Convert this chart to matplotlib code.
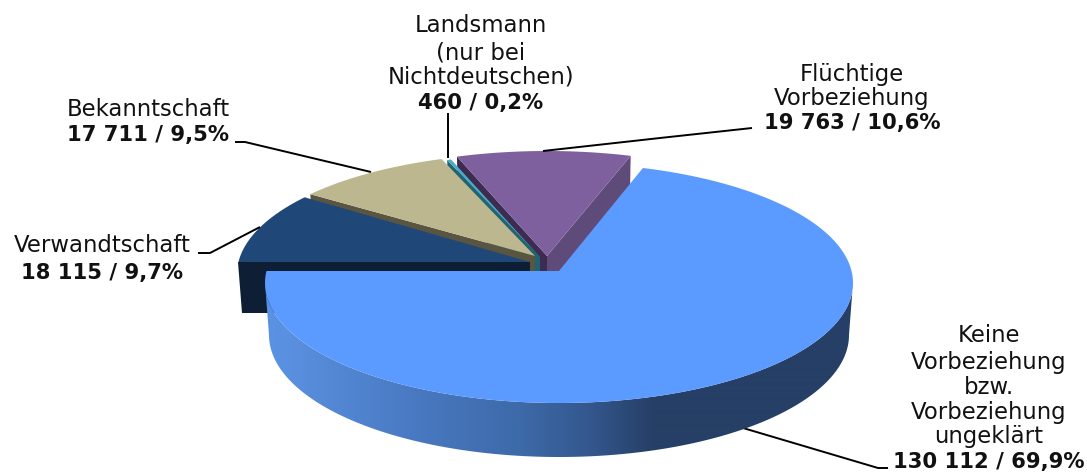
import numpy as np
import matplotlib
matplotlib.use("Agg")
import matplotlib.pyplot as plt
from matplotlib.colors import to_rgb
from matplotlib.patches import Polygon

plt.rcParams['font.family'] = ['DejaVu Sans']

categories = ["Verwandtschaft", "Bekanntschaft", "Landsmann", "Flüchtige Vorbeziehung",
              "Keine Vorbeziehung bzw. Vorbeziehung ungeklärt"]
values = [18115, 17711, 460, 19763, 130112]
top_colors = ["#1f4778", "#bdb78f", "#4bacc6", "#7f609e", "#5b9aff"]
wall_colors = ["#0d1e35", "#5a5540", "#1f6470", "#3d2b52", "#263f66"]

label_lines = [
    (["Landsmann", "(nur bei", "Nichtdeutschen)"], "460 / 0,2%", 481, [26, 53, 77, 103]),
    (["Flüchtige", "Vorbeziehung"], "19 763 / 10,6%", 852, [74, 99, 123]),
    (["Bekanntschaft"], "17 711 / 9,5%", 148, [109, 135]),
    (["Verwandtschaft"], "18 115 / 9,7%", 102, [246, 273]),
    (["Keine", "Vorbeziehung", "bzw.", "Vorbeziehung", "ungeklärt"], "130 112 / 69,9%", 989,
     [336, 362, 387, 412, 437, 462]),
]

# slice geometry (pixels): apex x, apex y, rx, ry, lower apex y, lower rx, lower ry, centre drop
geometry = [
    (530, 262, 293, 120, 313, 289, 122, 12),
    (535, 256, 293, 115, 300, 289, 118, 12),
    (540, 257, 291, 115, 301, 287, 118, 12),
    (547, 256, 294, 117, 303, 290, 122, 12),
    (559, 271, 294, 120, 323, 290, 122, 12),
]


def rim(theta, ax_, ay_, rx, ry, drop):
    t = np.radians(theta)
    c = -drop / ry
    s = np.sin(t)
    r = s * c + np.sqrt((s * c) ** 2 - (c ** 2 - 1))
    return ax_ + rx * r * np.cos(t), ay_ - ry * r * s


fig = plt.figure(figsize=(10.87, 4.72), dpi=100)
ax = fig.add_axes([0, 0, 1, 1])

fractions = np.cumsum([0] + values) / sum(values)
starts = 180 - 360 * fractions[:-1]
ends = 180 - 360 * fractions[1:]

grad_x = [265, 287, 420, 520, 587, 653, 860]
grad_c = np.array([to_rgb(c) for c in
                   ["#5a92e4", "#5a90e0", "#4878c0", "#3d6aa8", "#34588f", "#263f66", "#263f66"]])

for i in [3, 2, 1, 0, 4]:
    ax0, ay0, rx, ry, ay1, rx1, ry1, drop = geometry[i]
    a, b = starts[i], ends[i]
    th = np.linspace(a, b, 240)
    tx, ty = rim(th, ax0, ay0, rx, ry, drop)
    lx, ly = rim(th, ax0, ay1, rx1, ry1, drop)
    if i == 4:
        # outer wall: horizontal gradient clipped to the band between the two rims,
        # closed by straight silhouette edges at the widest points of the ellipses
        wall = np.linspace(-5.6, -174.4, 600)
        tx2, ty2 = rim(wall, ax0, ay0, rx, ry, drop)
        lx2, ly2 = rim(wall, ax0, ay1, rx1, ry1, drop)
        band = Polygon(np.c_[np.r_[tx2, lx2[::-1]], np.r_[ty2, ly2[::-1]]],
                       transform=ax.transData, fc="none", ec="none")
        ax.add_patch(band)
        xs = np.arange(255, 870)
        strip = np.stack([np.interp(xs, grad_x, grad_c[:, k]) for k in range(3)], axis=-1)[None, :, :]
        img = ax.imshow(strip, extent=(255, 870, 472, 250), aspect="auto", zorder=5,
                        interpolation="bilinear")
        img.set_clip_path(band)
        ax.fill(np.r_[ax0, tx], np.r_[ay0, ty], color=top_colors[i], lw=0, zorder=6)
        continue
    z = 1 + (3 - i) * 0.5 if i else 3
    ax.fill([tx[0], ax0, ax0, lx[0]], [ty[0], ay0, ay1, ly[0]],
            color=wall_colors[i], lw=0, zorder=z)
    if i == 3:
        ax.fill([tx[-1], ax0, ax0, lx[-1]], [ty[-1], ay0, ay1, ly[-1]],
                color="#5f4b7a", lw=0, zorder=z)
    ax.fill(np.r_[ax0, tx], np.r_[ay0, ty], color=top_colors[i], lw=0, zorder=z + 0.1)

leaders = [
    ([448, 448], [113, 158]),
    ([543, 660, 752], [151, 138, 128]),
    ([235, 245, 371], [142, 142, 172]),
    ([198, 210, 260], [253, 253, 227]),
    ([743, 878, 888], [428, 468, 468]),
]
for xs, ys in leaders:
    ax.plot(xs, ys, color="black", lw=1.4, zorder=4, solid_capstyle="butt")

for lines, bold, cx, ys in label_lines:
    for line, y in zip(lines + [bold], ys):
        is_bold = line == bold
        ax.text(cx, y, line, ha="center", va="center", fontsize=15.2 if is_bold else 16.4,
                color="#111111", fontweight="bold" if is_bold else "normal", zorder=8)

ax.set_xlim(0, 1087)
ax.set_ylim(472, 0)
ax.axis("off")
fig.savefig("out.png", dpi=100)
